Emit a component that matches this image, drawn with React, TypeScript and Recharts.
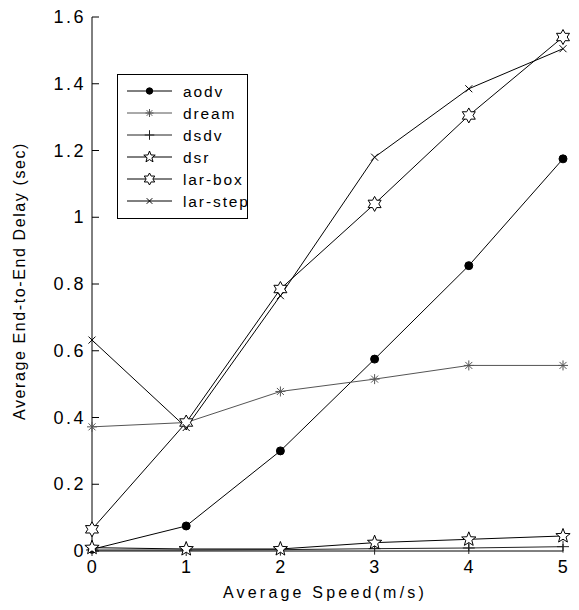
import { LineChart, Line, XAxis, YAxis } from "recharts"

const speeds = [0, 1, 2, 3, 4, 5]
const aodv = [0.005, 0.075, 0.3, 0.575, 0.855, 1.175]
const dream = [0.372, 0.385, 0.478, 0.515, 0.556, 0.556]
const dsdv = [0.003, 0.003, 0.004, 0.007, 0.009, 0.013]
const dsr = [0.01, 0.006, 0.006, 0.025, 0.035, 0.045]
const larBox = [0.065, 0.385, 0.785, 1.04, 1.305, 1.54]
const larStep = [0.632, 0.37, 0.765, 1.18, 1.385, 1.505]
const yTicks = [0, 0.2, 0.4, 0.6, 0.8, 1, 1.2, 1.4, 1.6]

type Kind = "dot" | "asterisk" | "plus" | "star" | "hex" | "x"

const series: { key: string; name: string; values: number[]; kind: Kind; color: string }[] = [
  { key: "aodv", name: "aodv", values: aodv, kind: "dot", color: "#000" },
  { key: "dream", name: "dream", values: dream, kind: "asterisk", color: "#555" },
  { key: "dsdv", name: "dsdv", values: dsdv, kind: "plus", color: "#222" },
  { key: "dsr", name: "dsr", values: dsr, kind: "star", color: "#000" },
  { key: "larBox", name: "lar-box", values: larBox, kind: "hex", color: "#000" },
  { key: "larStep", name: "lar-step", values: larStep, kind: "x", color: "#000" },
]

const data = speeds.map((s, i) => {
  const row: Record<string, number> = { speed: s }
  series.forEach((se) => (row[se.key] = se.values[i]))
  return row
})

const FONT = "'Liberation Sans', Arial, sans-serif"
const PL = 92
const PR = 563
const PT = 17
const PB = 551

function starPoints(cx: number, cy: number, n: number, ro: number, ri: number) {
  const pts: string[] = []
  for (let i = 0; i < n * 2; i++) {
    const r = i % 2 === 0 ? ro : ri
    const a = -Math.PI / 2 + (i * Math.PI) / n
    pts.push(`${cx + r * Math.cos(a)},${cy + r * Math.sin(a)}`)
  }
  return pts.join(" ")
}

function Marker({ kind, cx, cy, color, s = 1 }: { kind: Kind; cx: number; cy: number; color: string; s?: number }) {
  const st = { stroke: color, strokeWidth: 1 }
  switch (kind) {
    case "dot":
      return <circle cx={cx} cy={cy} r={4 * s} fill={color} stroke={color} />
    case "asterisk":
      return (
        <g {...st}>
          <line x1={cx - 5 * s} y1={cy} x2={cx + 5 * s} y2={cy} />
          <line x1={cx} y1={cy - 5 * s} x2={cx} y2={cy + 5 * s} />
          <line x1={cx - 3.5 * s} y1={cy - 3.5 * s} x2={cx + 3.5 * s} y2={cy + 3.5 * s} />
          <line x1={cx - 3.5 * s} y1={cy + 3.5 * s} x2={cx + 3.5 * s} y2={cy - 3.5 * s} />
        </g>
      )
    case "plus":
      return (
        <g {...st}>
          <line x1={cx - 6 * s} y1={cy} x2={cx + 6 * s} y2={cy} />
          <line x1={cx} y1={cy - 6 * s} x2={cx} y2={cy + 6 * s} />
        </g>
      )
    case "star":
      return <polygon points={starPoints(cx, cy, 5, 7.5 * s, 3.2 * s)} fill="#fff" {...st} />
    case "hex":
      return <polygon points={starPoints(cx, cy, 6, 7.5 * s, 4.2 * s)} fill="#fff" {...st} />
    case "x":
      return (
        <g {...st}>
          <line x1={cx - 3.5 * s} y1={cy - 3.5 * s} x2={cx + 3.5 * s} y2={cy + 3.5 * s} />
          <line x1={cx - 3.5 * s} y1={cy + 3.5 * s} x2={cx + 3.5 * s} y2={cy - 3.5 * s} />
        </g>
      )
  }
}

const makeDot = (kind: Kind, color: string) => (p: any) =>
  <Marker key={`${kind}-${p.index}`} kind={kind} cx={p.cx} cy={p.cy} color={color} />

const tickText = { fontSize: 18, fontFamily: FONT, fill: "#000", letterSpacing: 2.5 }

// ticks point inward (negative tickSize); labels placed by tickMargin
const BottomLabel = (p: any) => (
  <text x={p.x + 1} y={p.y + 22} textAnchor="middle" {...tickText}>
    {p.payload.value}
  </text>
)
const LeftLabel = (p: any) => (
  <text x={p.x} y={p.y + 6} textAnchor="end" {...tickText}>
    {p.payload.value}
  </text>
)

function LegendBox() {
  return (
    <svg width={132} height={146} style={{ position: "absolute", left: 117, top: 74 }}>
      <rect x={0.5} y={0.5} width={130} height={144} fill="#fff" stroke="#000" />
      {series.map((s, i) => {
        const y = 17 + i * 22
        return (
          <g key={s.key}>
            <line x1={10} y1={y} x2={55} y2={y} stroke={s.color} />
            <Marker kind={s.kind} cx={32.5} cy={y} color={s.color} s={0.8} />
            <text x={66} y={y + 5.5} fontSize={15.5} fontFamily={FONT} letterSpacing={1.9} fill="#000">
              {s.name}
            </text>
          </g>
        )
      })}
    </svg>
  )
}

const axisBits = { axisLine: { stroke: "#000" }, tickLine: { stroke: "#000" }, tickSize: -7 }

export default function App() {
  return (
    <div style={{ position: "absolute", left: 0, top: 0, width: 579, height: 610, background: "#fff" }}>
      <LineChart width={579} height={610} data={data} margin={{ top: PT, right: 579 - PR, bottom: 610 - PB - 30, left: PL - 60 }}>
        <XAxis dataKey="speed" type="number" domain={[0, 5]} ticks={speeds} xAxisId="b" height={30}
          {...axisBits} tickMargin={7} tick={BottomLabel} />
        <XAxis dataKey="speed" type="number" domain={[0, 5]} ticks={speeds} xAxisId="t" orientation="top" height={0}
          {...axisBits} tick={false} />
        <YAxis type="number" domain={[0, 1.6]} ticks={yTicks} yAxisId="l" width={60}
          {...axisBits} tickMargin={13} tick={LeftLabel} />
        <YAxis type="number" domain={[0, 1.6]} ticks={yTicks} yAxisId="r" orientation="right" width={0}
          {...axisBits} tick={false} />
        {series.map((s) => (
          <Line key={s.key} xAxisId="b" yAxisId="l" dataKey={s.key} name={s.name} type="linear"
            stroke={s.color} strokeWidth={1} dot={makeDot(s.kind, s.color)} activeDot={false}
            isAnimationActive={false} />
        ))}
        <text x={25} y={281} transform="rotate(-90 25 281)" textAnchor="middle" fontSize={16}
          fontFamily={FONT} letterSpacing={1.6} fill="#000">
          Average End-to-End Delay (sec)
        </text>
        <text x={325} y={598} textAnchor="middle" fontSize={16} fontFamily={FONT} letterSpacing={3.2} fill="#000">
          Average Speed(m/s)
        </text>
      </LineChart>
      <LegendBox />
    </div>
  )
}
